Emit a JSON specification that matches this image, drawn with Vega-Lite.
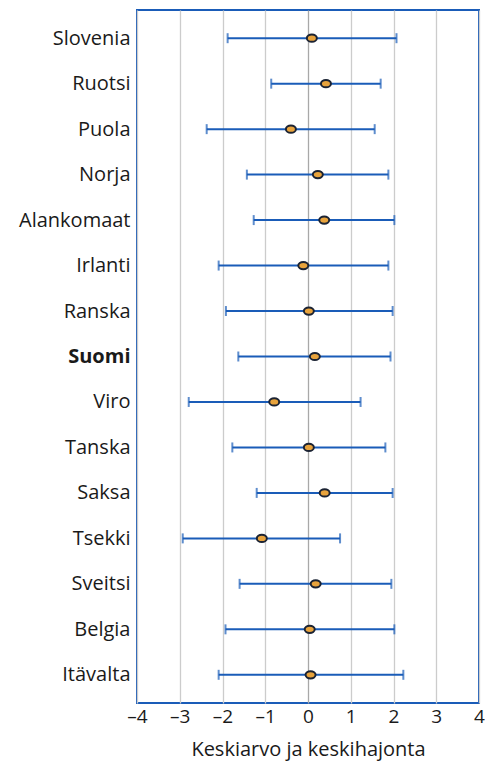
{
  "$schema": "https://vega.github.io/schema/vega-lite/v6.json",
  "autosize": {"type": "none"},
  "padding": {"left": 137, "top": 10, "right": 6, "bottom": 58},
  "width": 342,
  "height": 693,
  "background": "white",
  "config": {
    "view": {"stroke": "#1a5cb8", "strokeWidth": 2},
    "font": "Open Sans"
  },
  "data": {
    "values": [
      {"country": "Slovenia", "mean": 0.09, "low": -1.88, "high": 2.07},
      {"country": "Ruotsi", "mean": 0.42, "low": -0.86, "high": 1.70},
      {"country": "Puola", "mean": -0.40, "low": -2.37, "high": 1.56},
      {"country": "Norja", "mean": 0.23, "low": -1.43, "high": 1.88},
      {"country": "Alankomaat", "mean": 0.38, "low": -1.27, "high": 2.02},
      {"country": "Irlanti", "mean": -0.11, "low": -2.09, "high": 1.88},
      {"country": "Ranska", "mean": 0.02, "low": -1.92, "high": 1.98},
      {"country": "Suomi", "mean": 0.16, "low": -1.63, "high": 1.93},
      {"country": "Viro", "mean": -0.79, "low": -2.79, "high": 1.23},
      {"country": "Tanska", "mean": 0.02, "low": -1.77, "high": 1.81},
      {"country": "Saksa", "mean": 0.39, "low": -1.20, "high": 1.98},
      {"country": "Tsekki", "mean": -1.08, "low": -2.93, "high": 0.75},
      {"country": "Sveitsi", "mean": 0.18, "low": -1.60, "high": 1.95},
      {"country": "Belgia", "mean": 0.04, "low": -1.93, "high": 2.02},
      {"country": "Itävalta", "mean": 0.06, "low": -2.09, "high": 2.23}
    ]
  },
  "encoding": {
    "y": {
      "field": "country",
      "type": "nominal",
      "sort": null,
      "scale": {"type": "point", "padding": 0.62},
      "axis": {
        "title": null,
        "domain": false,
        "ticks": false,
        "grid": false,
        "labelFontSize": 20,
        "labelColor": "#1a1a1a",
        "labelPadding": 7,
        "labelFontWeight": {"condition": {"test": "datum.value === 'Suomi'", "value": "bold"}, "value": "normal"}
      }
    }
  },
  "layer": [
    {
      "mark": {"type": "rule", "color": "#1a5cb8", "strokeWidth": 2},
      "encoding": {
        "x": {
          "field": "low",
          "type": "quantitative",
          "scale": {"domain": [-4, 4], "nice": false, "zero": false},
          "axis": {
            "title": "Keskiarvo ja keskihajonta",
            "titleFontSize": 20,
            "titleFontWeight": "normal",
            "titleColor": "#1a1a1a",
            "titlePadding": 13,
            "values": [-4, -3, -2, -1, 0, 1, 2, 3, 4],
            "labelExpr": "replace(replace(datum.label, '−', '–'), '-', '–')",
            "labelFontSize": 19,
            "labelColor": "#1a1a1a",
            "labelPadding": 4,
            "labelFlush": false,
            "ticks": false,
            "domain": false,
            "grid": true,
            "gridColor": {"condition": {"test": "datum.value === 0", "value": "#a8a8a8"}, "value": "#cccccc"},
            "gridWidth": 1.3
          }
        },
        "x2": {"field": "high"}
      }
    },
    {
      "mark": {"type": "tick", "orient": "vertical", "color": "#1a5cb8", "thickness": 2, "size": 10},
      "encoding": {"x": {"field": "low", "type": "quantitative"}}
    },
    {
      "mark": {"type": "tick", "orient": "vertical", "color": "#1a5cb8", "thickness": 2, "size": 10},
      "encoding": {"x": {"field": "high", "type": "quantitative"}}
    },
    {
      "mark": {
        "type": "point",
        "filled": true,
        "shape": "M-1,0A1,0.72 0 1,0 1,0A1,0.72 0 1,0 -1,0Z",
        "size": 100,
        "fill": "#e8a33c",
        "stroke": "#1b2333",
        "strokeWidth": 2,
        "opacity": 1
      },
      "encoding": {"x": {"field": "mean", "type": "quantitative"}}
    }
  ]
}
